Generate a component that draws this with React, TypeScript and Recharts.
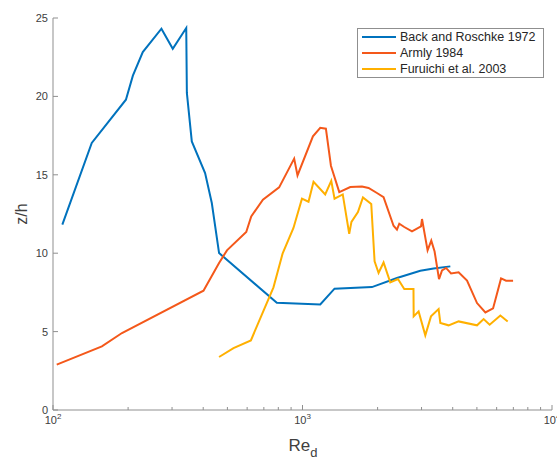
import { Legend, Line, LineChart, XAxis, YAxis } from 'recharts';

// Back and Roschke 1972
const backRe = [109, 143, 196, 209, 229, 272, 302, 342, 344, 360, 407, 433, 463, 789, 1178, 1344, 1898, 2391, 2966, 3354, 3913];
const backZh = [11.82, 17.03, 19.79, 21.32, 22.83, 24.32, 23.04, 24.36, 20.22, 17.13, 15.11, 13.2, 10.01, 6.84, 6.73, 7.74, 7.84, 8.42, 8.88, 9.03, 9.16];

// Armly 1984
const armlyRe = [
  103.5, 157, 189, 401, 463, 498, 595, 623, 694, 806, 926, 955, 1101, 1178, 1241, 1300, 1404, 1554, 1731, 1840,
  1988, 2113, 2317, 2391, 2443, 2558, 2747, 2985, 3013, 3172, 3282, 3384, 3525, 3624, 3761, 3939, 4224, 4565,
  5006, 5407, 5805, 6249, 6545, 6982,
];
const armlyZh = [
  2.89, 4.06, 4.91, 7.61, 9.38, 10.18, 11.35, 12.35, 13.41, 14.2, 16.03, 14.96, 17.45, 18.0, 17.94, 15.58, 13.9,
  14.22, 14.26, 14.16, 13.84, 13.58, 11.75, 11.5, 11.88, 11.67, 11.39, 11.71, 12.18, 10.18, 10.8, 10.11, 8.35,
  8.9, 9.06, 8.71, 8.78, 8.25, 6.82, 6.22, 6.48, 8.39, 8.25, 8.25,
];

// Furuichi et al. 2003
const furuichiRe = [
  463, 529, 621, 765, 832, 920, 995, 1057, 1107, 1233, 1304, 1344, 1450, 1539, 1571, 1668, 1747, 1886, 1945,
  2018, 2113, 2248, 2413, 2558, 2785, 2790, 2920, 3106, 3273, 3512, 3568, 3851, 4224, 5006, 5321, 5624, 6209, 6643,
];
const furuichiZh = [
  3.38, 3.95, 4.44, 7.82, 9.97, 11.61, 13.48, 13.28, 14.56, 13.75, 14.62, 13.48, 13.75, 11.24, 12.0, 12.63, 13.56,
  13.14, 9.48, 8.74, 9.41, 8.14, 8.35, 7.72, 7.72, 5.97, 6.29, 4.76, 5.97, 6.44, 5.55, 5.4, 5.65, 5.4, 5.8, 5.44,
  6.03, 5.65,
];

const xTicks = [100, 200, 300, 400, 500, 600, 700, 800, 900, 1000, 2000, 3000, 4000, 5000, 6000, 7000, 8000, 9000, 10000];
const xMajor: Record<number, string> = { 100: '2', 1000: '3', 10000: '4' };
const yTicks = [0, 5, 10, 15, 20, 25];

const SERIES = [
  { name: 'Back and Roschke 1972', color: '#0072BD', data: backRe.map((x, i) => ({ x, y: backZh[i] })) },
  { name: 'Armly 1984', color: '#F4581A', data: armlyRe.map((x, i) => ({ x, y: armlyZh[i] })) },
  { name: 'Furuichi et al. 2003', color: '#FFB000', data: furuichiRe.map((x, i) => ({ x, y: furuichiZh[i] })) },
];

const AXIS = '#8f8f8f';
const TEXT = '#404040';
const FONT = '"Liberation Sans", Arial, sans-serif';

function BottomTick({ x, y, payload }: any) {
  const exp = xMajor[payload.value];
  return (
    <g>
      <line x1={x} x2={x} y1={y} y2={y - (exp ? 5 : 3)} stroke={AXIS} />
      {exp && (
        <text x={x} y={y + 14} textAnchor="middle" fill={TEXT} fontSize={11} fontFamily={FONT}>
          10
          <tspan dy={-5} fontSize={8}>
            {exp}
          </tspan>
        </text>
      )}
    </g>
  );
}

function TopTick({ x, y, payload }: any) {
  const major = payload.value in xMajor;
  return <line x1={x} x2={x} y1={y} y2={y + (major ? 5 : 3)} stroke={AXIS} />;
}

function LeftTick({ x, y, payload }: any) {
  return (
    <g>
      <line x1={x} x2={x + 5} y1={y} y2={y} stroke={AXIS} />
      <text x={x - 5} y={y + 4} textAnchor="end" fill={TEXT} fontSize={11} fontFamily={FONT}>
        {payload.value}
      </text>
    </g>
  );
}

function RightTick({ x, y }: any) {
  return <line x1={x} x2={x - 5} y1={y} y2={y} stroke={AXIS} />;
}

function LegendBox() {
  return (
    <div
      style={{
        border: '1px solid #8f8f8f',
        background: '#fff',
        padding: '0 0 0 4px',
        fontFamily: FONT,
        fontSize: 12.5,
        color: '#262626',
        boxSizing: 'border-box',
        width: 187,
        height: 50,
      }}
    >
      {SERIES.map((s) => (
        <div key={s.name} style={{ display: 'flex', alignItems: 'center', height: 16 }}>
          <span style={{ width: 34, height: 2, background: s.color, marginRight: 4 }} />
          {s.name}
        </div>
      ))}
    </div>
  );
}

export default function App() {
  return (
    <div style={{ position: 'absolute', left: 0, top: 0, width: 557, height: 461, background: '#fff' }}>
      <LineChart width={557} height={461} margin={{ top: 18, right: 5, bottom: 0, left: 0 }}>
        <XAxis
          xAxisId={0}
          dataKey="x"
          type="number"
          scale="log"
          domain={[100, 10000]}
          allowDataOverflow
          ticks={xTicks}
          interval={0}
          tick={<BottomTick />}
          tickSize={0}
          tickMargin={0}
          tickLine={false}
          axisLine={{ stroke: AXIS }}
          height={51}
          label={() => (
            <text x={303} y={451} textAnchor="middle" fill={TEXT} fontSize={17} fontFamily={FONT}>
              Re
              <tspan dy={6} fontSize={13}>
                d
              </tspan>
            </text>
          )}
        />
        <XAxis
          xAxisId="top"
          orientation="top"
          dataKey="x"
          type="number"
          scale="log"
          domain={[100, 10000]}
          allowDataOverflow
          ticks={xTicks}
          interval={0}
          tick={<TopTick />}
          tickSize={0}
          tickMargin={0}
          tickLine={false}
          axisLine={{ stroke: AXIS }}
          height={0}
        />
        <YAxis
          yAxisId={0}
          type="number"
          domain={[0, 25]}
          ticks={yTicks}
          interval={0}
          tick={<LeftTick />}
          tickSize={0}
          tickMargin={0}
          tickLine={false}
          axisLine={{ stroke: AXIS }}
          width={53}
          label={() => (
            <text
              x={27}
              y={214}
              transform="rotate(-90 27 214)"
              textAnchor="middle"
              fill={TEXT}
              fontSize={16}
              fontFamily={FONT}
            >
              z/h
            </text>
          )}
        />
        <YAxis
          yAxisId="right"
          orientation="right"
          type="number"
          domain={[0, 25]}
          ticks={yTicks}
          interval={0}
          tick={<RightTick />}
          tickSize={0}
          tickMargin={0}
          tickLine={false}
          axisLine={{ stroke: AXIS }}
          width={0}
        />
        <Legend
          layout="vertical"
          align="center"
          verticalAlign="middle"
          content={<LegendBox />}
          wrapperStyle={{ left: 357, top: 28, width: 187 }}
        />
        {SERIES.map((s) => (
          <Line
            key={s.name}
            name={s.name}
            data={s.data}
            dataKey="y"
            stroke={s.color}
            strokeWidth={2}
            dot={false}
            isAnimationActive={false}
          />
        ))}
      </LineChart>
    </div>
  );
}
